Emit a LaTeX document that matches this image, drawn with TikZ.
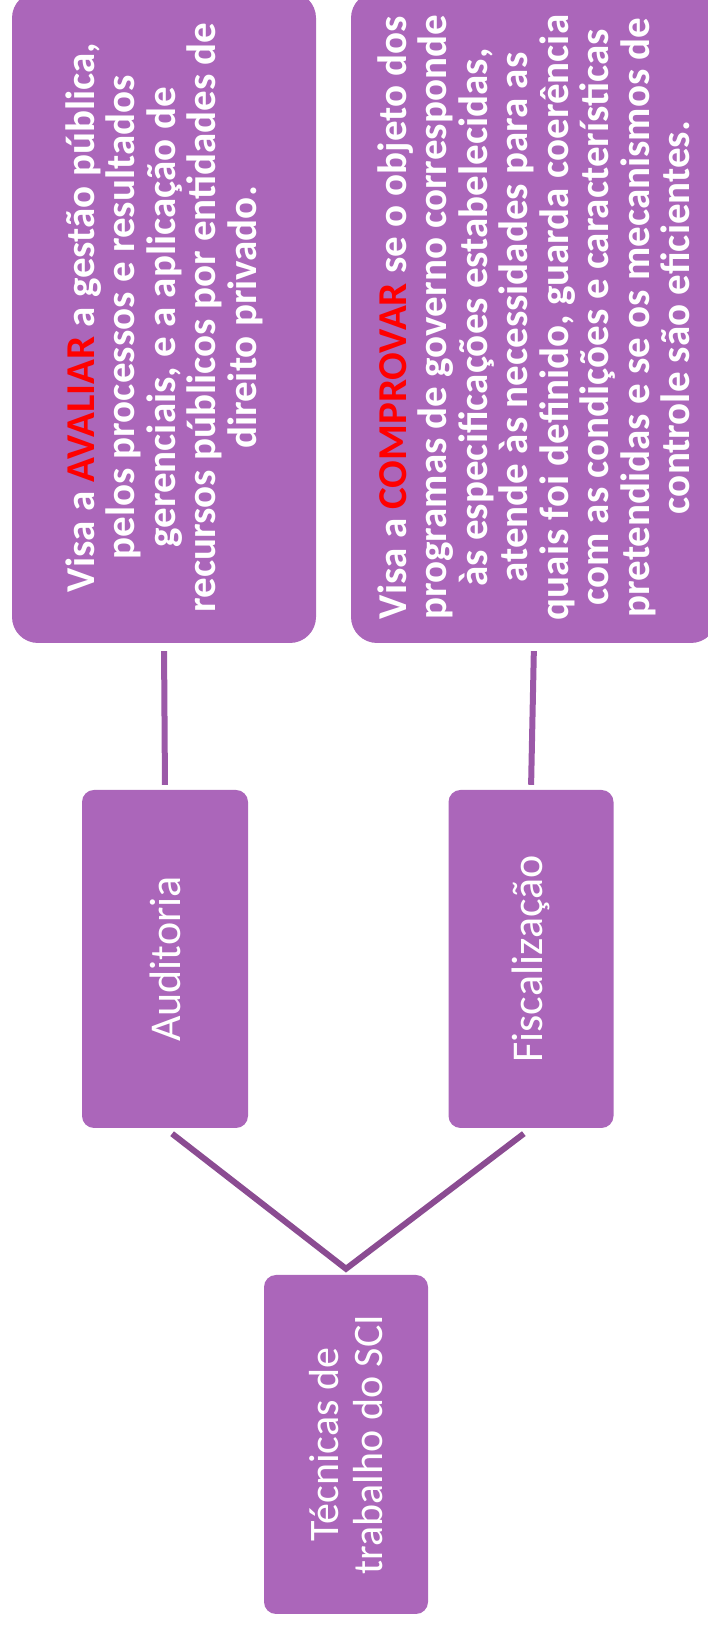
\documentclass[tikz,border=0pt]{standalone}
\usepackage{fontspec}
\setmainfont{Carlito}
\usetikzlibrary{positioning}
\definecolor{boxpurple}{RGB}{171,102,186}
\definecolor{linkpurple}{RGB}{155,89,168}
\definecolor{diagpurple}{RGB}{139,76,146}
\definecolor{hlred}{RGB}{255,0,0}

\begin{document}
\begin{tikzpicture}[x=1pt, y=1pt,
    box/.style={fill=boxpurple, rotate=90, align=center, text=white,
        inner sep=0pt, rounded corners=12pt},
    desc/.style={box, rounded corners=26pt,
        font=\fontsize{41}{40.5}\selectfont\bfseries},
    tech/.style={box, font=\fontsize{44}{44}\selectfont},
    link/.style={draw=linkpurple, line width=6pt},
    diag/.style={draw=diagpurple, line width=6pt}]
    \useasboundingbox (0,0) rectangle (708,1625);
    \clip (0,0) rectangle (708,1625);

    \node[tech, minimum width=339pt, minimum height=164pt,
        font=\fontsize{42}{44}\selectfont] (root) at (346,180.5)
        {Técnicas de\\trabalho do SCI};
    \node[tech, minimum width=338pt, minimum height=166pt] (aud) at (165,666) {Auditoria};
    \node[tech, minimum width=338pt, minimum height=165pt] (fisc) at (531,666) {Fiscalização};

    \node[desc, minimum width=651pt, minimum height=304pt] (avaliar) at (164,1307.5)
        {Visa a \textcolor{hlred}{AVALIAR} a gestão pública,\\
         pelos processos e resultados\\
         gerenciais, e a aplicação de\\
         recursos públicos por entidades de\\
         direito privado.};
    \node[desc, minimum width=651pt, minimum height=366pt] (comprovar) at (534,1307.5)
        {Visa a \textcolor{hlred}{COMPROVAR} se o objeto dos\\
         programas de governo corresponde\\
         às especificações estabelecidas,\\
         atende às necessidades para as\\
         quais foi definido, guarda coerência\\
         com as condições e características\\
         pretendidas e se os mecanismos de\\
         controle são eficientes.};

    \coordinate[above=6pt of root.east] (apex);
    \draw[diag, shorten <=9pt, shorten >=9pt] (aud.west) -- (apex) -- (fisc.west);
    \draw[link, shorten <=8pt, shorten >=5pt] (avaliar.west) -- (aud.east);
    \draw[link, shorten <=8pt, shorten >=5pt] (comprovar.west) -- (fisc.east);
\end{tikzpicture}
\end{document}
